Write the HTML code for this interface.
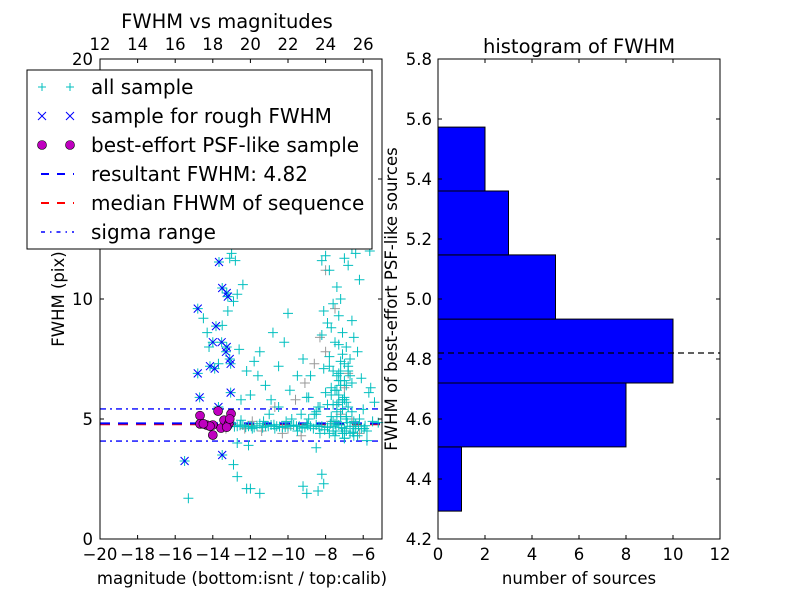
<!DOCTYPE html>
<html><head><meta charset="utf-8"><style>
body{margin:0;background:#fff}
svg{display:block;font-family:"DejaVu Sans","Liberation Sans",sans-serif}
</style></head><body>
<svg id="chart" width="800" height="600" xmlns="http://www.w3.org/2000/svg">
<rect width="800" height="600" fill="#fff"/>
<g id="left"></g>
<g id="right"></g>
</svg>
<script>
const allSampleX=[-15.3,-12.9,-12.7,-12.2,-12.0,-11.5,-9.0,-8.4,-8.2,-8.1,-9.2,-12.1,-12.7,-8.5,-5.8,
-14.5,-14.3,-14.2,-13.5,-13.2,-13.0,-12.8,-12.4,-12.7,-13.7,-12.6,-12.2,-11.8,-11.5,-11.2,-10.8,-10.5,-10.2,-9.5,-9.2,-10.0,-12.5,-12.0,-11.0,-10.5,-9.8,-9.0,-8.5,-11.6,-10.9,-9.9,-13.1,-12.9,
-13.0,-12.7,-12.4,-12.1,-11.8,-11.5,-11.2,-10.9,-10.6,-10.3,-10.0,-9.7,-9.4,-9.1,-8.8,-8.5,-8.2,-7.9,-7.6,-7.3,-7.0,-6.7,-6.4,-6.1,-5.8,-5.5,-5.2,-12.5,-11.9,-11.3,-10.7,-10.1,-9.5,-8.9,-8.3,-7.7,-7.1,-6.5,-5.9,
-12.85,-12.55,-12.25,-11.95,-11.65,-11.35,-11.05,-10.75,-10.45,-10.15,-9.85,-9.55,-9.25,-8.95,-8.65,-8.35,-8.05,-7.75,-7.45,-7.15,-6.85,-6.55,-6.25,-5.95,-5.65,
-8.2,-8.0,-7.8,-7.6,-7.4,-7.2,-7.0,-6.8,-6.6,-6.4,-6.2,-8.1,-7.9,-7.7,-7.5,-7.3,-7.1,-6.9,-6.7,-6.5,-6.3,-7.8,-7.6,-7.4,-7.2,-7.0,-6.8,-6.6,-7.5,-7.3,-7.1,-6.9,-7.9,-7.7,-8.3,-8.6,-8.8,-9.0,-6.0,-5.7,-5.4,-7.4,-7.2,-7.0,-8.4,-6.5,-6.2,-7.6,-6.9,-7.3,-7.1,-8.0,-7.5,-6.7,-8.9,-9.3,-7.8,-8.2,-7.6,-7.3,-6.6,-6.4,-7.0,-8.5,-8.1,-7.4,-6.1,-5.6,-7.7,
-7.3,-7.1,-6.9,-7.2,-7.0,-6.8,-7.4,-7.6,-6.6,-7.1,-6.9,-7.3,-6.7,-7.5,-7.0,-6.8,-7.2,-6.5,-7.8,-6.3,-7.0,-7.2,-6.9,-7.4,-6.6,-7.1],
allSampleY=[1.7,3.1,2.6,2.1,2.1,1.9,1.9,2.0,2.7,2.3,2.2,3.9,4.0,3.8,4.1,
9.2,8.6,8.0,8.9,9.5,11.9,11.6,10.6,10.2,7.3,7.9,7.0,7.4,7.8,6.4,8.6,7.2,8.2,6.8,7.5,9.4,5.8,6.0,5.2,5.5,5.0,4.8,5.3,6.8,5.8,6.2,11.7,9.9,
4.8,4.7,4.75,4.7,4.65,4.8,4.7,4.75,4.7,4.65,4.7,4.75,4.7,4.65,4.7,4.75,4.7,4.65,4.7,4.75,4.6,4.7,4.8,4.6,4.5,4.9,4.85,4.95,4.6,4.9,4.6,4.9,4.5,5.0,4.4,5.1,4.4,4.3,
4.72,4.68,4.74,4.66,4.7,4.72,4.64,4.7,4.76,4.68,4.66,4.72,4.7,4.62,4.74,4.6,4.68,4.55,4.8,4.5,4.65,4.85,4.45,4.7,4.6,
12.0,11.6,11.8,11.2,9.8,10.5,10.0,11.7,11.4,12.1,11.9,10.8,9.5,9.0,8.8,8.2,9.3,8.6,8.0,7.5,8.4,7.8,7.2,7.0,6.8,7.4,6.6,7.2,6.5,6.2,6.0,5.8,6.4,5.6,6.3,5.5,5.2,6.8,5.9,5.4,6.1,5.7,5.3,5.1,4.2,5.5,4.9,5.0,4.5,5.7,6.9,4.4,6.1,4.3,4.4,5.9,5.2,7.6,8.5,5.6,6.6,9.1,4.6,4.2,5.2,7.1,4.9,6.7,
6.3,6.0,5.7,5.4,5.1,6.6,5.9,7.0,6.2,4.9,5.3,7.7,5.0,8.1,6.8,4.8,7.3,5.5,7.0,4.7,4.4,4.3,5.8,6.4,4.5,5.6],
greyX=[-13.3,-11.9,-10.7,-10.3,-9.6,-9.1,-8.6,-8.0,-7.7,-7.4,-7.0,-6.6,-6.2,-11.4,-10.0,-8.3,-7.2,-6.8,-9.3,-8.0,-7.5,-12.3],
greyY=[4.6,4.9,5.5,4.4,5.8,6.5,7.3,7.8,4.9,5.6,6.3,5.0,4.4,4.5,4.6,8.4,5.2,6.9,4.3,11.2,9.6,4.6],
roughX=[-13.67,-13.5,-13.26,-13.2,-14.8,-13.83,-14.0,-13.53,-13.26,-13.3,-13.1,-13.05,-14.15,-13.9,-14.8,-14.7,-13.05,-13.7,-15.5,-13.5],
roughY=[11.54,10.46,10.25,10.1,9.6,8.87,8.2,8.2,8.0,7.8,7.5,7.3,7.2,7.1,6.9,5.9,6.1,5.5,3.25,3.5],
bestX=[-14.68,-14.68,-14.33,-14.0,-13.72,-14.0,-13.56,-13.4,-13.15,-13.03,-13.26,-14.15,-14.5,-13.1],
bestY=[5.14,4.8,4.75,4.75,5.33,4.33,4.62,4.95,4.8,5.22,4.66,4.7,4.8,5.0];
const resultantFWHM=4.82, medianFWHM=4.78, sigmaHi=5.42, sigmaLo=4.08;
const binEdges=[4.293,4.507,4.72,4.933,5.147,5.36,5.573];
const binCounts=[1,8,10,5,3,2];
const leftXTicks=[-20,-18,-16,-14,-12,-10,-8,-6];
const leftYTicks=[0,5,10,15,20];
const topTicks=[12,14,16,18,20,22,24,26];
const rightXTicks=[0,2,4,6,8,10,12];
const rightYTicks=[4.2,4.4,4.6,4.8,5.0,5.2,5.4,5.6,5.8];

const NS="http://www.w3.org/2000/svg";
const FS=16.5, LFS=20, TFS=19.5;
function mk(p,t,a,txt){const e=document.createElementNS(NS,t);for(const k in a)e.setAttribute(k,a[k]);if(txt!==undefined)e.textContent=txt;p.appendChild(e);return e;}
const L=document.getElementById('left'),R=document.getElementById('right');
const lx=v=>100+(v+20)*282/15, ly=v=>539-v*24, tx=v=>100+(v-12)*282/15;
const rx=v=>438+v*282/12, ry=v=>539-(v-4.2)*300;

function hline(y,stroke,dash,w,name){const e=mk(L,'line',{x1:100,x2:382,y1:ly(y),y2:ly(y),stroke:stroke,'stroke-width':w,'stroke-dasharray':dash});

}
hline(sigmaHi,'#0000ff','6 4 2 4',1.3,'sigma-upper');
hline(sigmaLo,'#0000ff','6 4 2 4',1.3,'sigma-lower');
hline(medianFWHM,'#ff0000','10 8',2,'median-line');
hline(resultantFWHM,'#0000ff','10 8',2,'resultant-line');
function plus(g,x,y,c,s){mk(g,'path',{d:`M${x-s} ${y}H${x+s}M${x} ${y-s}V${y+s}`,stroke:c,'stroke-width':1,fill:'none'});}
function cross(g,x,y,c,s){mk(g,'path',{d:`M${x-s} ${y-s}L${x+s} ${y+s}M${x+s} ${y-s}L${x-s} ${y+s}`,stroke:c,'stroke-width':1,fill:'none'});}
const gGrey=mk(L,'g',{});
greyX.forEach((v,i)=>plus(gGrey,lx(v),ly(greyY[i]),'#999',5));
const gAll=mk(L,'g',{});
allSampleX.forEach((v,i)=>plus(gAll,lx(v),ly(allSampleY[i]),'#00bfbf',5));
const gR=mk(L,'g',{});
roughX.forEach((v,i)=>{plus(gR,lx(v),ly(roughY[i]),'#00bfbf',5);cross(gR,lx(v),ly(roughY[i]),'#0000ff',4);});
const gB=mk(L,'g',{});
bestX.forEach((v,i)=>mk(gB,'circle',{cx:lx(v),cy:ly(bestY[i]),r:4.5,fill:'#bf00bf',stroke:'#000','stroke-width':0.6}));
mk(L,'rect',{x:100,y:59,width:282,height:480,fill:'none',stroke:'#000'});
leftXTicks.forEach(t=>{const x=lx(t);mk(L,'path',{d:`M${x} 539v-4M${x} 59v4`,stroke:'#000'});mk(L,'text',{x:x,y:560,'font-size':FS,'text-anchor':'middle'},(t<0?'\u2212'+(-t):t));});
leftYTicks.forEach(t=>{const y=ly(t);mk(L,'path',{d:`M100 ${y}h4M382 ${y}h-4`,stroke:'#000'});mk(L,'text',{x:93,y:y+6,'font-size':FS,'text-anchor':'end'},t);});
topTicks.forEach(t=>{const x=tx(t);mk(L,'text',{x:x,y:50,'font-size':FS,'text-anchor':'middle'},t);});
mk(L,'text',{x:242,y:584,'font-size':FS,'text-anchor':'middle'},'magnitude (bottom:isnt / top:calib)');
mk(L,'text',{x:64,y:299,'font-size':FS,'text-anchor':'middle',transform:'rotate(-90 64 299)'},'FWHM (pix)');
mk(L,'text',{x:227,y:28,'font-size':TFS,'text-anchor':'middle'},'FWHM vs magnitudes');
const lg=mk(L,'g',{});
mk(lg,'rect',{x:27,y:70,width:345,height:179,fill:'#fff',stroke:'#000'});
const items=['all sample','sample for rough FWHM','best-effort PSF-like sample','resultant FWHM: 4.82','median FHWM of sequence','sigma range'];
items.forEach((s,i)=>{const y=87+i*29;
 if(i==0){plus(lg,42,y,'#00bfbf',4);plus(lg,70,y,'#00bfbf',4);}
 if(i==1){cross(lg,42,y,'#0000ff',4);cross(lg,70,y,'#0000ff',4);}
 if(i==2){mk(lg,'circle',{cx:42,cy:y,r:4.5,fill:'#bf00bf',stroke:'#000','stroke-width':0.6});mk(lg,'circle',{cx:70,cy:y,r:4.5,fill:'#bf00bf',stroke:'#000','stroke-width':0.6});}
 if(i==3)mk(lg,'line',{x1:41,x2:74,y1:y,y2:y,stroke:'#0000ff','stroke-width':2,'stroke-dasharray':'8 8'});
 if(i==4)mk(lg,'line',{x1:41,x2:74,y1:y,y2:y,stroke:'#ff0000','stroke-width':2,'stroke-dasharray':'8 8'});
 if(i==5)mk(lg,'line',{x1:41,x2:74,y1:y,y2:y,stroke:'#0000ff','stroke-width':1.5,'stroke-dasharray':'4 5 1.5 5'});
 const t=mk(lg,'text',{x:91,y:y+7,'font-size':LFS},s);
 
 
});
binCounts.forEach((c,i)=>{const r=mk(R,'rect',{x:438,y:ry(binEdges[i+1]),width:rx(c)-438,height:ry(binEdges[i])-ry(binEdges[i+1]),fill:'#0000ff',stroke:'#000'});

});
mk(R,'line',{x1:438,x2:720,y1:ry(resultantFWHM),y2:ry(resultantFWHM),stroke:'#000','stroke-dasharray':'6 4','stroke-width':1.2});
mk(R,'rect',{x:438,y:59,width:282,height:480,fill:'none',stroke:'#000'});
rightXTicks.forEach(t=>{const x=rx(t);mk(R,'path',{d:`M${x} 539v-4M${x} 59v4`,stroke:'#000'});mk(R,'text',{x:x,y:560,'font-size':FS,'text-anchor':'middle'},t);});
rightYTicks.forEach(t=>{const y=ry(t);mk(R,'path',{d:`M438 ${y}h4M720 ${y}h-4`,stroke:'#000'});mk(R,'text',{x:432,y:y+6,'font-size':FS,'text-anchor':'end'},t.toFixed(1));});
mk(R,'text',{x:579,y:584,'font-size':FS,'text-anchor':'middle'},'number of sources');
mk(R,'text',{x:397,y:299,'font-size':FS,'text-anchor':'middle',transform:'rotate(-90 397 299)'},'FWHM of best-effort PSF-like sources');
mk(R,'text',{x:579,y:53,'font-size':TFS,'text-anchor':'middle'},'histogram of FWHM');
</script>
</body></html>
